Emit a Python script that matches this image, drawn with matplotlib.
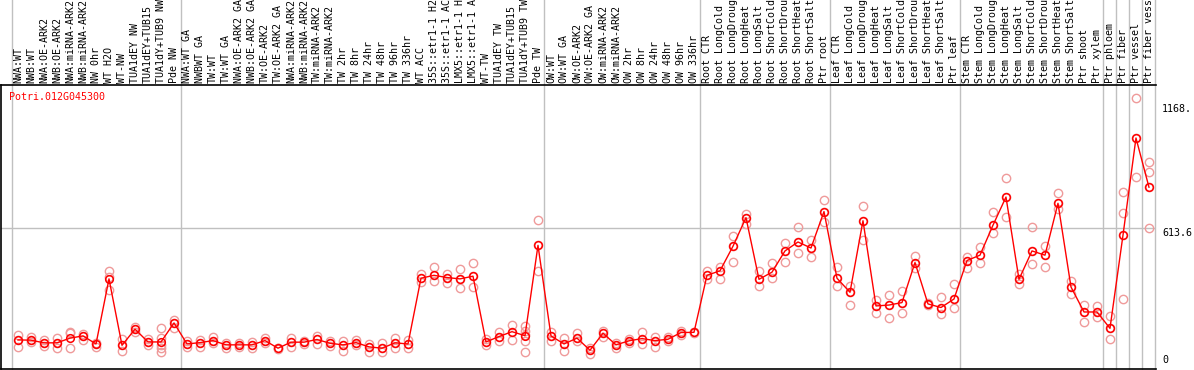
import matplotlib
matplotlib.use("Agg")
import matplotlib.pyplot as plt
import matplotlib.transforms as mtransforms

# sample labels (truncated as in the original figure)
labels = [
    "NWA:WT", "NWB:WT", "NWA:OE-ARK2", "NWB:OE-ARK2", "NWA:miRNA-ARK2",
    "NWB:miRNA-ARK2", "NW 0hr", "WT H2O", "WT-NW", "TUA1dEY NW",
    "TUA1dEY+TUB15", "TUA1dY+TUB9 NW", "Pde NW",
    "NWA:WT GA", "NWBWT GA", "TW:WT", "TW:WT GA", "NWA:OE-ARK2 GA",
    "NWB:OE-ARK2 GA", "TW:OE-ARK2", "TW:OE-ARK2 GA", "NWA:miRNA-ARK2",
    "NWB:miRNA-ARK2", "TW:miRNA-ARK2", "TW:miRNA-ARK2", "TW 2hr", "TW 8hr",
    "TW 24hr", "TW 48hr", "TW 96hr", "TW 336hr", "WT ACC", "35S::etr1-1 H2",
    "35S::etr1-1 AC", "LMX5::etr1-1 H", "LMX5::etr1-1 A", "WT-TW",
    "TUA1dEY TW", "TUA1dEY+TUB15", "TUA1dY+TUB9 TW", "Pde TW",
    "OW:WT", "OW:WT GA", "OW:OE-ARK2", "OW:OE-ARK2 GA", "OW:miRNA-ARK2",
    "OW:miRNA-ARK2", "OW 2hr", "OW 8hr", "OW 24hr", "OW 48hr", "OW 96hr",
    "OW 336hr",
    "Root CTR", "Root LongCold", "Root LongDroug", "Root LongHeat",
    "Root LongSalt", "Root ShortCold", "Root ShortDrou", "Root ShortHeat",
    "Root ShortSalt", "Ptr root",
    "Leaf CTR", "Leaf LongCold", "Leaf LongDroug", "Leaf LongHeat",
    "Leaf LongSalt", "Leaf ShortCold", "Leaf ShortDrou", "Leaf ShortHeat",
    "Leaf ShortSalt", "Ptr leaf",
    "Stem CTR", "Stem LongCold", "Stem LongDroug", "Stem LongHeat",
    "Stem LongSalt", "Stem ShortCold", "Stem ShortDrou", "Stem ShortHeat",
    "Stem ShortSalt", "Ptr shoot", "Ptr xylem",
    "Ptr phloem", "Ptr fiber", "Ptr vessel", "Ptr fiber vess",
]

# mean expression per sample
means = [
    114, 113, 101, 101, 122, 132, 96, 387, 90, 162, 105, 105, 190,
    96, 102, 111, 92, 92, 92, 111, 77, 104, 104, 116, 99, 92, 102, 83, 77,
    101, 96, 390, 403, 393, 387, 399, 105, 129, 151, 133, 537,
    132, 96, 122, 68, 144, 92, 110, 120, 111, 117, 147, 148,
    403, 423, 533, 661, 385, 417, 512, 552, 525, 688,
    390, 327, 647, 266, 270, 281, 460, 275, 259, 297,
    469, 493, 627, 753, 385, 512, 493, 725, 351, 239, 239,
    166, 582, 1017, 797,
]

# replicate values per sample
replicates = [
    [136, 114, 84], [126, 113, 105], [114, 101, 89], [124, 101, 78],
    [151, 144, 77], [139, 132, 114], [99, 96, 84], [423, 397, 338],
    [117, 90, 66], [173, 162, 151], [118, 105, 92], [166, 122, 92, 77, 62],
    [205, 190, 169],
    [110, 96, 84], [114, 102, 84], [129, 111, 99], [99, 92, 77],
    [99, 91, 82], [104, 92, 77], [124, 111, 99], [75, 77, 80],
    [122, 104, 82], [107, 104, 98], [132, 116, 98], [110, 99, 89],
    [110, 92, 66], [114, 102, 92], [95, 83, 62], [99, 77, 62],
    [124, 101, 77], [114, 96, 77], [408, 390, 372], [442, 403, 379],
    [408, 393, 367], [431, 387, 345], [457, 399, 352], [117, 105, 90],
    [148, 129, 110], [181, 151, 114], [175, 155, 135, 110, 62],
    [650, 537, 424],
    [151, 132, 110], [122, 96, 66], [144, 122, 107], [77, 68, 53],
    [153, 144, 129], [99, 92, 77], [118, 110, 99], [151, 120, 95],
    [129, 111, 84], [126, 117, 107], [153, 147, 136], [145, 148, 151],
    [423, 403, 385], [442, 423, 385], [579, 533, 464], [676, 661, 631],
    [423, 385, 355], [457, 417, 393], [546, 512, 464], [618, 552, 501],
    [561, 525, 483], [738, 688, 643],
    [442, 390, 353], [357, 327, 269], [712, 647, 561], [293, 266, 233],
    [315, 270, 211], [333, 281, 236], [490, 460, 434], [278, 275, 270],
    [305, 259, 229], [363, 297, 256],
    [486, 469, 437], [528, 493, 460], [685, 627, 591], [837, 753, 665],
    [408, 385, 363], [620, 512, 452], [534, 493, 439], [770, 725, 700],
    [378, 351, 321], [270, 239, 196], [267, 239, 218],
    [223, 166, 117], [774, 680, 582, 297], [1195, 1017, 841],
    [911, 866, 797, 613],
]

group_breaks = [-0.5, 12.5, 40.5, 52.5, 62.5, 72.5, 83.5, 84.5, 85.5, 86.5, 87.5]
right_ticks = [1168, 613.6, 0]
right_tick_labels = ["1168.", "613.6", "0"]
gene = "Potri.012G045300"

mono = "DejaVu Sans Mono"
fs = 7.2

fig = plt.figure(figsize=(11.94, 3.70), dpi=100)
ax = fig.add_axes([1 / 1194, 1 / 370, 1155 / 1194, 284 / 370])
ax.set_xlim(-1.308, 87.54)
ax.set_ylim(-16, 1254)

xs = list(range(len(labels)))

# vertical separators, running up through the label area
vtrans = mtransforms.blended_transform_factory(ax.transData, ax.transAxes)
for b in group_breaks:
    ax.plot([b, b], [0, 370 / 284], color="#c0c0c0", lw=1, transform=vtrans,
            clip_on=False, zorder=1)
ax.axhline(613.6, color="#c0c0c0", lw=1, zorder=1)

# replicate points
for x, reps in zip(xs, replicates):
    ax.plot([x] * len(reps), reps, "o", ms=6, mfc="none", mec="#ef9a9a",
            mew=1, zorder=2)

# mean line
ax.plot(xs, means, "-", color="red", lw=1, zorder=3)
ax.plot(xs, means, "o", ms=5.5, mfc="none", mec="red", mew=1.1, zorder=4)

# rotated sample labels above the plot
ltrans = mtransforms.blended_transform_factory(ax.transData, ax.transAxes)
for x, lab in zip(xs, labels):
    ax.text(x, 1 + 2 / 284, lab, rotation=90, ha="center", va="bottom",
            family=mono, fontsize=fs, transform=ltrans, clip_on=False)

# right-hand value labels
rtrans = ax.get_yaxis_transform()
for v, t in zip(right_ticks, right_tick_labels):
    ax.text(1 + 6 / 1155, v, t, ha="left", va="top" if v > 0 else "bottom",
            family=mono, fontsize=fs, transform=rtrans, clip_on=False)

ax.text(8 / 1155, 1 - 12 / 284, gene, color="red", family=mono, fontsize=fs,
        ha="left", va="center", transform=ax.transAxes)

ax.set_xticks([])
ax.set_yticks([])
for s in ["left", "top", "bottom"]:
    ax.spines[s].set_color("black")
    ax.spines[s].set_linewidth(1.2)
ax.spines["right"].set_visible(False)

fig.savefig("out.png", dpi=100)
plt.close(fig)
